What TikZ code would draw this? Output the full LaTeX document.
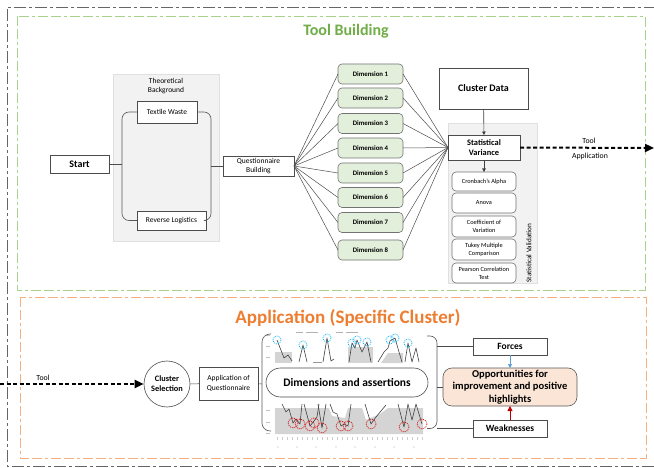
\documentclass[tikz,border=0pt]{standalone}
\usepackage{fontspec}
\setmainfont{Carlito}
\usetikzlibrary{arrows.meta,shadows}
\definecolor{tbgreen}{RGB}{112,173,71}
\definecolor{tbgreenline}{RGB}{169,209,142}
\definecolor{aporange}{RGB}{237,125,49}
\definecolor{aporangeline}{RGB}{244,177,131}
\definecolor{dimfill}{RGB}{226,239,218}
\definecolor{panelfill}{RGB}{242,242,242}
\definecolor{peach}{RGB}{251,229,214}
\definecolor{peakblue}{RGB}{0,176,240}
\definecolor{arrowblue}{RGB}{91,155,213}
\definecolor{darkred}{RGB}{192,0,0}
\begin{document}
\begin{tikzpicture}[x=1pt,y=-1pt,
  box/.style={draw=black!70, fill=white, line width=0.6pt, align=center, inner sep=0.5pt, outer sep=0pt},
  txt/.style={font=\fontsize{7.5}{9.3}\selectfont},
  valtxt/.style={font=\fontsize{6.3}{8}\selectfont},
  dimbox/.style={box, draw=black!55, fill=dimfill, rounded corners=4pt, minimum width=65pt, minimum height=20pt, font=\bfseries\fontsize{6.8}{8}\selectfont},
  valbox/.style={box, draw=black!55, rounded corners=4pt, minimum width=64pt, valtxt},
  link/.style={draw=black!70, line width=0.5pt},
  bracket/.style={draw=black!65, line width=0.6pt, rounded corners=7pt},
  flow/.style={draw=black, line width=2pt, dash pattern=on 4pt off 2.5pt, -{Triangle[length=9pt,width=8pt]}},
  panel/.style={fill=panelfill, draw=black!12, line width=0.5pt, inner sep=0pt, drop shadow={opacity=0.2, shadow xshift=1.2pt, shadow yshift=-1.2pt}},
  down/.style={draw=black!75, line width=0.6pt, -{Triangle[length=3.5pt,width=3.5pt]}},
  chartline/.style={draw=black!75, line width=0.6pt, line join=round},
  peak/.style={draw=peakblue, line width=0.7pt, dash pattern=on 1pt off 1pt},
  dip/.style={draw=red!85!black, line width=0.7pt, dash pattern=on 1pt off 1pt},
]
\useasboundingbox (0,0) rectangle (654,468);

% frames
\draw[black!60, line width=0.8pt, dash pattern=on 12pt off 3pt on 3pt off 3pt] (656,7) -- (7,7) -- (7,466) -- (656,466);
\draw[tbgreenline, line width=0.8pt, dash pattern=on 10pt off 3pt on 10pt off 3pt on 3pt off 3pt] (17,16) rectangle (645,290);
\draw[aporangeline, line width=0.8pt, dash pattern=on 10pt off 3pt on 10pt off 3pt on 3pt off 3pt] (20,297) rectangle (646,458);

\node[font=\bfseries\fontsize{16}{18}\selectfont, text=tbgreen] (tbtitle) at (346,31) {Tool Building};
\node[font=\bfseries\fontsize{19}{22}\selectfont, text=aporange] (aptitle) at (348,318) {Application (Specific Cluster)};

% ---------- Tool building ----------
\node[panel, minimum width=106pt, minimum height=167pt, anchor=north west] (tbpanel) at (113,74) {};
\node[txt, align=center] (tbhead) at (166,86) {Theoretical\\Background};

\node[box, minimum width=59pt, minimum height=18pt, font=\bfseries\fontsize{10}{12}\selectfont] (start) at (79.5,164) {Start};
\node[box, txt, minimum width=60pt, minimum height=22pt] (tw) at (167,112) {Textile Waste};
\node[box, txt, minimum width=69pt, minimum height=19pt] (rl) at (171.5,220.5) {Reverse Logistics};
\coordinate (lb) at (122,164);
\coordinate (rb) at (211,166);
\draw[bracket] (tw.west) -| (lb) |- (rl.west);
\draw[bracket] (tw.east) -| (rb) |- (rl.east);
\draw[link] (start) -- (lb);
\node[box, txt, minimum width=71pt, minimum height=20pt] (qb) at (258.5,166) {Questionnaire\\Building};
\draw[link] (rb) -- (qb);

\foreach \i/\y in {1/74,2/98,3/123.5,4/148,5/173,6/197.5,7/222.5,8/250}
  \node[dimbox] (d\i) at (370.5,\y) {Dimension \i};

\node[panel, minimum width=89pt, minimum height=160pt, anchor=north west] (svpanel) at (448,123) {};
\node[font=\fontsize{7.2}{8}\selectfont, rotate=90] (svlabel) at (529,253) {Statistical Validation};

\node[box, minimum width=89pt, minimum height=41pt, font=\bfseries\fontsize{10}{12}\selectfont] (cd) at (483.5,88.5) {Cluster Data};
\node[box, minimum width=72pt, minimum height=25pt, font=\bfseries\fontsize{8.4}{10}\selectfont] (sv) at (484,147.5) {Statistical\\Variance};

\foreach \i in {1,...,8} {
  \draw[link] (qb.east) -- (d\i.west);
  \draw[link] (d\i.east) -- (sv.west);
}

\node[valbox, minimum height=19pt] (v1) at (484,181.5) {Cronbach's Alpha};
\node[valbox, minimum height=20pt] (v2) at (484,203) {Anova};
\node[valbox, minimum height=21pt] (v3) at (484,226.5) {Coefficient of\\Variation};
\node[valbox, minimum height=21pt] (v4) at (484,249.5) {Tukey Multiple\\Comparison};
\node[valbox, minimum height=20pt] (v5) at (484,273) {Pearson Correlation\\Test};

\draw[down] (cd) -- (sv);
\draw[down] (sv) -- (v1);

\coordinate (toolout) at (654,148);
\draw[flow] (sv.east) -- (toolout);
\node[font=\fontsize{7.8}{9}\selectfont] (tolab1) at (589,141) {Tool};
\node[font=\fontsize{7.8}{9}\selectfont] (tolab2) at (590,156) {Application};

% ---------- Application ----------
% peaks chart
\fill[black!17] (275,352) rectangle (292,363);
\fill[black!17] (348,347) rectangle (373,363);
\fill[black!17] (381,363) -- (388,353) -- (403,353) -- (403,363) -- cycle;
\foreach \y in {335,346,357} \draw[black!25, line width=0.4pt] (266,\y) -- (270,\y);
\draw[black!30, line width=0.4pt] (296,332) -- (303,332);
\draw[black!30, line width=0.4pt] (306,332) -- (318,332);
\draw[black!30, line width=0.4pt] (336,332) -- (343,332);
\draw[black!30, line width=0.4pt] (346,332) -- (358,332);
\draw[chartline] (277,340) -- (284,358) -- (288,355) -- (292,361);
\draw[chartline] (299,362) -- (303,345) -- (307,362);
\draw[black!40, line width=0.5pt] (313,362) -- (322,362);
\draw[chartline] (323,362) -- (327,338) -- (331,361) -- (334,359);
\draw[chartline] (349,362) -- (352,343) -- (355,348) -- (357,340) -- (362,352) -- (367,342) -- (371,362);
\draw[chartline] (378,362) -- (384,352) -- (388,348) -- (390,341) -- (395,338) -- (399,352) -- (402,362);
\draw[chartline] (405,362) -- (408,343) -- (412,362) -- (416,348) -- (419,362);
\foreach \p in {(277,340),(303,345),(327,338),(352,343),(357,340),(367,342),(390,340),(395,338),(408,343)}
  \draw[peak] \p circle[radius=4];

% dips chart
\fill[black!17] (275,408) -- (329,408) -- (332,416) -- (345,418) -- (348,408) -- (362,408) -- (366,420) -- (380,414) -- (388,408) -- (423,408) -- (423,434) -- (275,434) -- cycle;
\foreach \y in {410,422,433} \draw[black!25, line width=0.4pt] (266,\y) -- (270,\y);
\foreach \x in {277,282,...,422} \draw[black!20, line width=0.4pt] (\x,437) -- (\x,440);
\foreach \x in {278,297,316,336,355,375,394,414} \fill[black!30] (\x,447) circle[radius=0.6];
\draw[chartline] (282,404) -- (286,412) -- (289,409) -- (293,423) -- (296,419) -- (300,424) -- (302,404);
\draw[chartline] (304,404) -- (310,426) -- (314,421) -- (317,417) -- (319,404);
\draw[chartline] (318,404) -- (322,428) -- (326,404);
\draw[chartline] (330,404) -- (333,412) -- (337,414) -- (341,426) -- (344,424) -- (348,426) -- (351,404);
\draw[chartline] (365,404) -- (371,424) -- (376,417) -- (386,405);
\draw[chartline] (398,404) -- (404,427) -- (408,404) -- (412,420) -- (416,404) -- (422,424);
\foreach \p in {(293,423),(300,424),(310,426),(314,423),(322,428),(341,426),(348,426),(371,424),(404,427),(422,424)}
  \draw[dip] \p circle[radius=5];

\node[circle, draw=black!70, line width=0.6pt, fill=white, minimum size=46pt, inner sep=0pt, align=center, font=\bfseries\fontsize{8.3}{10}\selectfont] (cs) at (167,384) {Cluster\\Selection};
\coordinate (toolin) at (0,384);
\draw[flow] (toolin) -- (cs.west);
\node[font=\fontsize{7.8}{9}\selectfont] (tilab) at (43,378) {Tool};

\node[box, txt, minimum width=59pt, minimum height=33pt] (aq) at (228.5,383.5) {Application of\\Questionnaire};
\draw[link] (cs) -- (aq);

\coordinate (lb2) at (262,384);
\coordinate (lb2top) at (271,334);
\coordinate (lb2bot) at (271,431);
\draw[link] (aq) -- (lb2);
\draw[bracket, rounded corners=8pt] (lb2top) -| (lb2) |- (lb2bot);

\node[box, rounded corners=14.5pt, minimum width=162pt, minimum height=29pt, font=\bfseries\fontsize{11.5}{13}\selectfont] (da) at (347,382.5) {Dimensions and assertions};

\node[box, minimum width=74pt, minimum height=17pt, font=\bfseries\fontsize{9.5}{11}\selectfont] (forces) at (510,346.5) {Forces};
\node[box, minimum width=74pt, minimum height=17pt, font=\bfseries\fontsize{9.5}{11}\selectfont] (weak) at (510,428.5) {Weaknesses};
\node[box, fill=peach, draw=black!65, rounded corners=9pt, minimum width=134pt, minimum height=38pt, font=\bfseries\fontsize{10.5}{12.5}\selectfont] (opp) at (510,387) {Opportunities for\\improvement and positive\\highlights};

\coordinate (rb2) at (437,387);
\coordinate (rb2top) at (427,336);
\coordinate (rb2bot) at (427,428.5);
\coordinate (rb2f) at (437,346.5);
\coordinate (rb2w) at (437,428.5);
\draw[bracket] (rb2top) -| (rb2) |- (rb2bot);
\draw[link] (rb2f) -- (forces.west);
\draw[link] (rb2w) -- (weak.west);
\draw[link] (rb2) -- (opp.west);

\draw[arrowblue, line width=0.6pt, -{Triangle[length=4pt,width=4pt]}] (forces) -- (opp);
\draw[darkred, line width=0.8pt, -{Triangle[length=5pt,width=5pt]}] (weak) -- (opp);
\end{tikzpicture}
\end{document}
